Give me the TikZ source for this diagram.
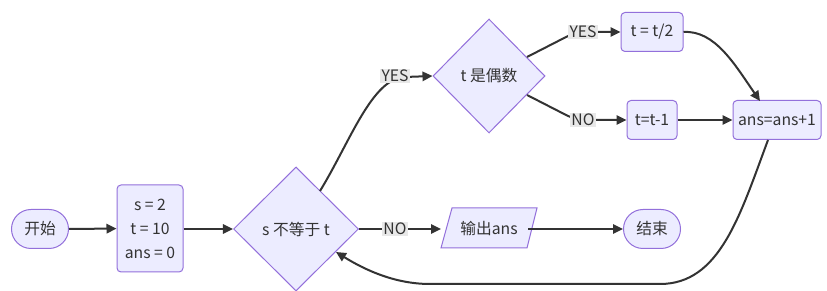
\documentclass[tikz,border=0pt]{standalone}
\usepackage{fontspec}
\setmainfont{Noto Sans CJK SC}
\usetikzlibrary{shapes.geometric,shapes.misc,arrows.meta}
\definecolor{nfill}{HTML}{ECECFF}
\definecolor{nline}{HTML}{9370DB}
\definecolor{eline}{HTML}{333333}
\definecolor{lblbg}{HTML}{E8E8E8}
\tikzset{
  txt/.style={font=\fontsize{11.8pt}{14pt}\selectfont,text=eline},
  box/.style={txt,draw=nline,fill=nfill,line width=0.75pt,rounded corners=3pt,inner sep=0pt,
    minimum height=29.25pt},
  stadium/.style={txt,draw=nline,fill=nfill,line width=0.75pt,rounded rectangle,inner sep=0pt,
    minimum height=29.25pt,minimum width=42.75pt},
  decide/.style={txt,draw=nline,fill=nfill,line width=0.75pt,diamond,inner sep=0pt},
  plain/.style={txt,inner sep=0pt},
  lbl/.style={txt,fill=lblbg,inner sep=0.8pt},
  edge/.style={draw=eline,line width=1.5pt,-{Triangle[length=7.5pt,width=7pt]}},
}
\begin{document}
\begin{tikzpicture}[x=0.75pt,y=-0.75pt]
\useasboundingbox[fill=white] (0,0) rectangle (827,291);
% nodes
\node[stadium] (start) at (40,229) {开始};
\node[box,minimum width=49.5pt,minimum height=65.25pt,align=center,
  font=\fontsize{11.8pt}{18pt}\selectfont] (init) at (150,228.5) {s = 2\\t = 10\\ans = 0};
\node[decide,minimum width=93.75pt,minimum height=93pt] (cond) at (296,229) {s 不等于 t};
\node[decide,minimum width=84pt,minimum height=85.5pt] (even) at (489,76) {t 是偶数};
\node[box,minimum width=46.5pt] (half) at (652,32) {t = t/2};
\node[box,minimum width=37.5pt] (dec) at (652,120) {t=t-1};
\node[box,minimum width=66pt] (inc) at (777,120) {ans=ans+1};
\node[plain,minimum width=72pt,minimum height=30pt] (out) at (489,228) {};
\fill[nfill] (452,208) -- (537,208) -- (527,248) -- (441,248) -- cycle;
\draw[nline,line width=0.75pt] (452,208) -- (537,208) -- (527,248) -- (441,248) -- cycle;
\node[plain] at (out) {输出ans};
\node[stadium] (stop) at (652,229) {结束};
% edges
\draw[edge] (start) -- (init);
\draw[edge] (init.east |- cond) -- (cond);
\draw[edge] (320,191) .. controls (350,142) and (372,78) .. (405,77) -- (even.west);
\node[lbl] (ly1) at (395,76) {YES};
\draw[edge] (527,57) -- (568,36) .. controls (576,32) and (585,32) .. (595,32) -- (half.west);
\node[lbl] (ly2) at (583,32) {YES};
\draw[edge] (527,95) -- (568,116) .. controls (575,119) and (585,120) .. (595,120) -- (dec.west);
\node[lbl] (ln1) at (583,120) {NO};
\draw[edge] (half.east) .. controls (715,30) and (735,65) .. (760,101);
\draw[edge] (dec) -- (inc);
\draw[edge] (cond.east) -- (441,229);
\node[lbl] (ln2) at (395,229) {NO};
\draw[edge] (528,229) -- (stop.west);
\draw[edge] (768,140) .. controls (740,215) and (720,284) .. (660,284) -- (430,284)
  .. controls (395,284) and (365,270) .. (336,252);
\end{tikzpicture}
\end{document}
